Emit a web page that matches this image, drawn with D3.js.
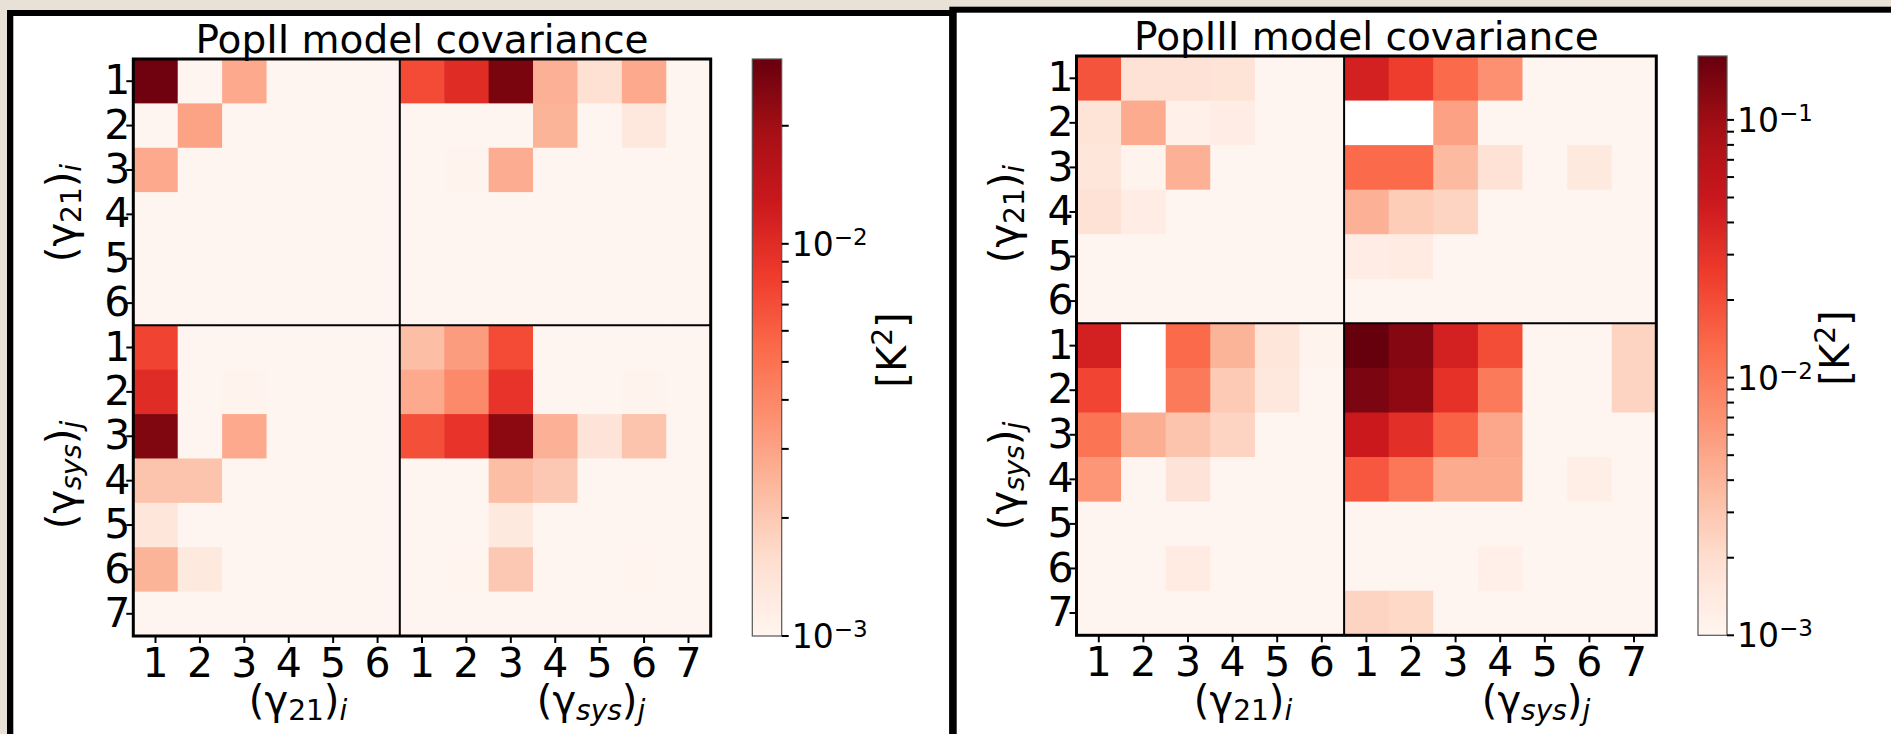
<!DOCTYPE html>
<html><head><meta charset="utf-8">
<script src="https://cdn.jsdelivr.net/npm/d3@7"></script>
<style>html,body{margin:0;padding:0;background:#e8e0d4;} svg{display:block;}</style>
</head><body><svg id="chart" width="1891" height="734"></svg>
<script>
// ---------------- data ----------------
const gamma21Ticks = ["1","2","3","4","5","6"];
const gammaSysTicks = ["1","2","3","4","5","6","7"];
const cbarMin = 1e-3;
const L = 5e-4;          // below colour-scale minimum (clipped to lightest colour)
// null = negative covariance (masked in log scale -> white)

// PopII model covariance
const popII_vmax = 0.0296;
const popII_21_21 = [
  [0.028, L, 2.8e-3, L, L, L],
  [L, 3.0e-3, L, L, L, L],
  [2.8e-3, L, L, L, L, L],
  [L, L, L, L, L, L],
  [L, L, L, L, L, L],
  [L, L, L, L, L, L]
];
const popII_21_sys = [
  [7.2e-3, 1.0e-2, 0.026, 2.6e-3, 1.5e-3, 2.8e-3, L],
  [L, L, L, 2.5e-3, L, 1.3e-3, L],
  [L, 1.04e-3, 2.7e-3, L, L, L, L],
  [L, L, L, L, L, L, L],
  [L, L, L, L, L, L, L],
  [L, L, L, L, L, L, L]
];
const popII_sys_21 = [
  [7.7e-3, L, L, L, L, L],
  [1.0e-2, L, 1.04e-3, L, L, L],
  [0.025, L, 2.8e-3, L, L, L],
  [2.1e-3, 2.1e-3, L, L, L, L],
  [1.35e-3, L, L, L, L, L],
  [2.5e-3, 1.27e-3, L, L, L, L],
  [L, L, L, L, L, L]
];
const popII_sys_sys = [
  [2.26e-3, 3.2e-3, 7.2e-3, L, L, L, L],
  [2.8e-3, 3.9e-3, 9.1e-3, L, L, 1.04e-3, L],
  [6.9e-3, 9.1e-3, 0.0228, 2.6e-3, 1.4e-3, 2.1e-3, L],
  [L, L, 2.26e-3, 2.0e-3, L, L, L],
  [L, L, 1.27e-3, L, L, L, L],
  [L, 1.03e-3, 2.0e-3, L, L, 1.03e-3, L],
  [L, L, L, L, L, L, L]
];

// PopIII model covariance
const popIII_vmax = 0.177;
const popIII_21_21 = [
  [0.018, 1.77e-3, 1.77e-3, 1.7e-3, L, L],
  [1.7e-3, 4.7e-3, 1.17e-3, 1.3e-3, L, L],
  [1.6e-3, 1.05e-3, 4.26e-3, L, L, L],
  [1.77e-3, 1.3e-3, L, L, L, L],
  [L, L, L, L, L, L],
  [L, L, L, L, L, L]
];
const popIII_21_sys = [
  [0.0417, 0.0248, 0.0133, 7.2e-3, L, L, L],
  [null, null, 5.5e-3, L, L, L, L],
  [0.0133, 0.013, 3.65e-3, 1.77e-3, L, 1.44e-3, L],
  [4.26e-3, 2.68e-3, 2.4e-3, L, L, L, L],
  [1.3e-3, 1.36e-3, L, L, L, L, L],
  [L, L, L, L, L, L, L]
];
const popIII_sys_21 = [
  [0.0417, null, 0.0133, 4.05e-3, 1.6e-3, 1.05e-3],
  [0.0224, null, 0.0103, 2.8e-3, 1.5e-3, L],
  [0.0114, 4.5e-3, 3.1e-3, 2.4e-3, L, L],
  [6.5e-3, L, 1.68e-3, L, L, L],
  [L, L, L, L, L, L],
  [L, L, 1.36e-3, L, L, L],
  [L, L, L, L, L, L]
];
const popIII_sys_sys = [
  [0.177, 0.13, 0.0417, 0.0202, L, L, 2.4e-3],
  [0.143, 0.118, 0.0306, 0.0103, L, L, 2.4e-3],
  [0.0487, 0.032, 0.0148, 4.97e-3, L, L, L],
  [0.0174, 0.0108, 4.7e-3, 4.7e-3, L, 1.23e-3, L],
  [L, L, L, L, L, L, L],
  [L, L, L, 1.2e-3, L, L, L],
  [2.4e-3, 2.17e-3, L, L, L, L, L]
];

// matplotlib "Reds"
const redsStops = ["#fff5f0","#fee0d2","#fcbba1","#fc9272","#fb6a4a","#ef3b2c","#cb181d","#a50f15","#67000d"];
const cmap = d3.piecewise(d3.interpolateRgb, redsStops);

const FONT = "DejaVu Sans";
const svg = d3.select("#chart");
const defs = svg.append("defs");

// subtle paper texture for the page background
const paper = defs.append("filter").attr("id","paper").attr("x",0).attr("y",0).attr("width","100%").attr("height","100%");
paper.append("feTurbulence").attr("type","fractalNoise").attr("baseFrequency","0.35 0.9").attr("numOctaves",2).attr("seed",3).attr("result","n");
paper.append("feColorMatrix").attr("in","n").attr("type","matrix")
  .attr("values","0 0 0 0 0.80  0 0 0 0 0.76  0 0 0 0 0.70  0 0 0 0.9 -0.25").attr("result","c");
paper.append("feComposite").attr("in","c").attr("in2","SourceGraphic").attr("operator","in");

// ---------------- page / boxes ----------------
svg.append("rect").attr("x",0).attr("y",0).attr("width",1891).attr("height",734).attr("fill","#e9e1d5");
svg.append("rect").attr("x",0).attr("y",0).attr("width",1891).attr("height",734).attr("fill","#e9e1d5").attr("filter","url(#paper)");
// left box
svg.append("rect").attr("x",7).attr("y",10).attr("width",950).attr("height",740).attr("fill","#000");
svg.append("rect").attr("x",13.3).attr("y",16).attr("width",936).attr("height",740).attr("fill","#fff");
// right box
svg.append("rect").attr("x",949.3).attr("y",6.7).attr("width",960).attr("height",740).attr("fill","#000");
svg.append("rect").attr("x",956.7).attr("y",12.7).attr("width",960).attr("height",740).attr("fill","#fff");

function mathLabel(g, parts, size) {
  // parts: [text, italic, sub]
  const t = g.append("text").attr("font-family", FONT).attr("font-size", size).attr("fill","#000");
  let cur = 0;
  parts.forEach(([s, it, sub]) => {
    const target = sub ? size*0.15 : 0;
    t.append("tspan").text(s)
      .attr("font-style", it ? "italic" : "normal")
      .attr("font-size", sub ? size*0.7 : size)
      .attr("dy", target - cur);
    cur = target;
  });
  return t;
}
const lab21 = [["(",false,false],["γ",false,false],["21",false,true],[")",false,false],["i",true,true]];
const labSys = [["(",false,false],["γ",false,false],["sys",true,true],[")",false,false],["j",true,true]];

function drawPanel(cfg) {
  const g = svg.append("g");
  const colKeys = gamma21Ticks.map(d => "a"+d).concat(gammaSysTicks.map(d => "b"+d));
  const rowKeys = colKeys.slice();
  const x = d3.scaleBand().domain(colKeys).range([cfg.x0, cfg.x1]);
  const y = d3.scaleBand().domain(rowKeys).range([cfg.y0, cfg.y1]);
  const norm = d3.scaleLog().domain([cbarMin, cfg.vmax]).range([0,1]).clamp(true);

  const cells = [];
  const addBlock = (mat, rPref, rLab, cPref, cLab) => {
    mat.forEach((row, i) => row.forEach((v, j) => {
      cells.push({r: rPref + rLab[i], c: cPref + cLab[j], v});
    }));
  };
  addBlock(cfg.b11, "a", gamma21Ticks, "a", gamma21Ticks);
  addBlock(cfg.b12, "a", gamma21Ticks, "b", gammaSysTicks);
  addBlock(cfg.b21, "b", gammaSysTicks, "a", gamma21Ticks);
  addBlock(cfg.b22, "b", gammaSysTicks, "b", gammaSysTicks);

  g.append("g").selectAll("rect").data(cells).join("rect")
    .attr("x", d => x(d.c)).attr("y", d => y(d.r))
    .attr("width", x.bandwidth()+0.6).attr("height", y.bandwidth()+0.6)
    .attr("fill", d => d.v == null ? "#ffffff" : cmap(norm(d.v)));

  // block separators
  const xs = x("b1"), ys = y("b1");
  g.append("line").attr("x1", xs).attr("x2", xs).attr("y1", cfg.y0).attr("y2", cfg.y1).attr("stroke","#000").attr("stroke-width",2);
  g.append("line").attr("x1", cfg.x0).attr("x2", cfg.x1).attr("y1", ys).attr("y2", ys).attr("stroke","#000").attr("stroke-width",2);
  // spine
  g.append("rect").attr("x", cfg.x0).attr("y", cfg.y0).attr("width", cfg.x1-cfg.x0).attr("height", cfg.y1-cfg.y0)
    .attr("fill","none").attr("stroke","#000").attr("stroke-width",3);

  // axes
  const fmt = k => k.slice(1);
  const ax = g.append("g").attr("transform", `translate(0,${cfg.y1})`)
    .call(d3.axisBottom(x).tickFormat(fmt).tickSize(7).tickPadding(5));
  const ay = g.append("g").attr("transform", `translate(${cfg.x0},0)`)
    .call(d3.axisLeft(y).tickFormat(fmt).tickSize(7).tickPadding(-4));
  [ax, ay].forEach(a => {
    a.select(".domain").remove();
    a.selectAll(".tick line").attr("stroke","#000").attr("stroke-width",2);
    a.selectAll(".tick text").attr("font-family", FONT).attr("font-size", 41).attr("fill","#000");
  });

  // title
  g.append("text").attr("x", (cfg.x0+cfg.x1)/2).attr("y", cfg.titleY)
    .attr("text-anchor","middle").attr("font-family", FONT).attr("font-size", 39).text(cfg.title);

  // axis labels
  mathLabel(g, lab21, 40).attr("text-anchor","middle").attr("transform", `translate(${cfg.xl1},714)`);
  mathLabel(g, labSys, 40).attr("text-anchor","middle").attr("transform", `translate(${cfg.xl2},714)`);
  mathLabel(g, lab21, 40).attr("text-anchor","middle").attr("transform", `translate(${cfg.ylx},${cfg.yl1}) rotate(-90)`);
  mathLabel(g, labSys, 40).attr("text-anchor","middle").attr("transform", `translate(${cfg.ylx},${cfg.yl2}) rotate(-90)`);

  // colorbar
  const cy = d3.scaleLog().domain([cbarMin, cfg.vmax]).range([cfg.y1, cfg.y0]);
  const gid = "grad" + cfg.id;
  const grad = defs.append("linearGradient").attr("id", gid).attr("x1",0).attr("x2",0).attr("y1",1).attr("y2",0);
  d3.range(0, 1.0001, 0.02).forEach(t => grad.append("stop").attr("offset", t).attr("stop-color", cmap(t)));
  g.append("rect").attr("x", cfg.cx0).attr("y", cfg.y0).attr("width", cfg.cx1-cfg.cx0).attr("height", cfg.y1-cfg.y0)
    .attr("fill", `url(#${gid})`).attr("stroke","#555").attr("stroke-width",1.2);
  const majors = [1e-3, 1e-2, 1e-1].filter(v => v <= cfg.vmax);
  const minors = [];
  [1e-3, 1e-2, 1e-1].forEach(d => d3.range(2,10).forEach(m => { const v = m*d; if (v <= cfg.vmax) minors.push(v); }));
  g.append("g").selectAll("line").data(majors.concat(minors)).join("line")
    .attr("x1", cfg.cx1).attr("x2", cfg.cx1+7).attr("y1", d => cy(d)).attr("y2", d => cy(d))
    .attr("stroke","#000").attr("stroke-width",2);
  majors.forEach(v => {
    const e = Math.round(Math.log10(v));
    const t = g.append("text").attr("x", cfg.cx1+10).attr("y", cy(v)+12)
      .attr("font-family", FONT).attr("font-size", 33).attr("fill","#000");
    t.append("tspan").text("10");
    t.append("tspan").text("−" + Math.abs(e)).attr("font-size", 23).attr("dy", -11);
  });
  // colorbar label
  const cl = g.append("text").attr("font-family", FONT).attr("font-size", 40).attr("text-anchor","middle")
    .attr("transform", `translate(${cfg.clx},${cfg.cly}) rotate(-90)`);
  cl.append("tspan").text("[K");
  cl.append("tspan").text("2").attr("font-size", 28).attr("dy", -14);
  cl.append("tspan").text("]").attr("dy", 14);
}

drawPanel({id:"II", title:"PopII model covariance", vmax: popII_vmax,
  b11: popII_21_21, b12: popII_21_sys, b21: popII_sys_21, b22: popII_sys_sys,
  x0:133.3, x1:710.7, y0:59, y1:636, titleY:53,
  xl1:298, xl2:591, ylx:75, yl1:213, yl2:475,
  cx0:752.3, cx1:781.7, clx:906, cly:350});

drawPanel({id:"III", title:"PopIII model covariance", vmax: popIII_vmax,
  b11: popIII_21_21, b12: popIII_21_sys, b21: popIII_sys_21, b22: popIII_sys_sys,
  x0:1076.5, x1:1656.3, y0:56, y1:635.3, titleY:50,
  xl1:1243, xl2:1536, ylx:1018, yl1:214, yl2:476,
  cx0:1698, cx1:1727, clx:1849, cly:348});
</script></body></html>
